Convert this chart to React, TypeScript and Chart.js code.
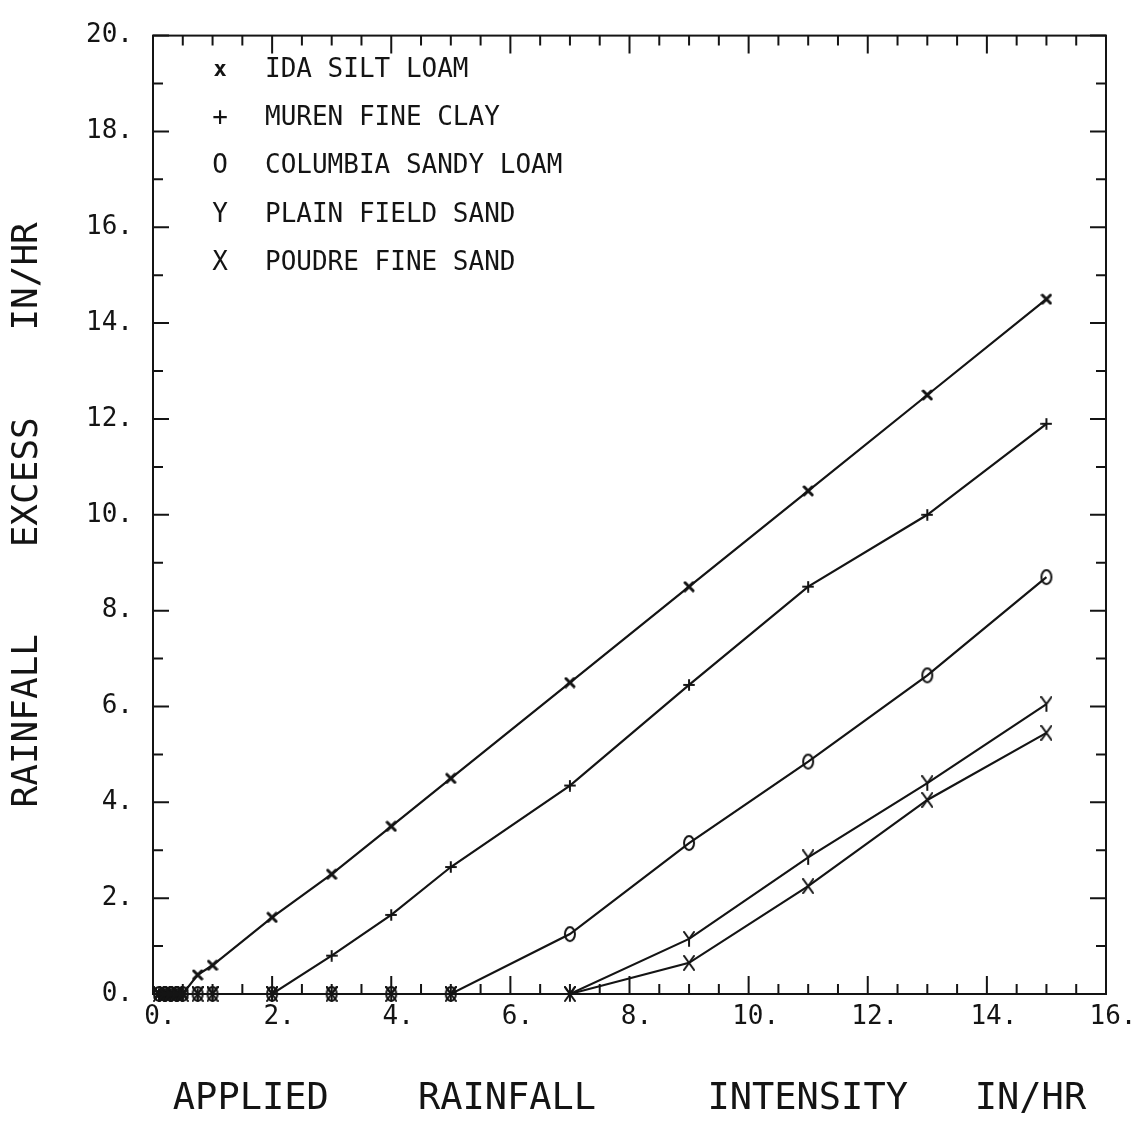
import React, { useEffect, useRef } from 'react';
import { Chart, registerables } from 'chart.js';

Chart.register(...registerables);

// ---- data ----
const xValues = [0.1, 0.2, 0.3, 0.4, 0.5, 0.75, 1, 2, 3, 4, 5, 7, 9, 11, 13, 15];
const idaSiltLoam = [0, 0, 0, 0, 0, 0.4, 0.6, 1.6, 2.5, 3.5, 4.5, 6.5, 8.5, 10.5, 12.5, 14.5];
const murenFineClay = [0, 0, 0, 0, 0, 0, 0, 0, 0.8, 1.65, 2.65, 4.35, 6.45, 8.5, 10.0, 11.9];
const columbiaSandyLoam = [0, 0, 0, 0, 0, 0, 0, 0, 0, 0, 0, 1.25, 3.15, 4.85, 6.65, 8.7];
const plainFieldSand = [0, 0, 0, 0, 0, 0, 0, 0, 0, 0, 0, 0, 1.15, 2.85, 4.4, 6.05];
const poudreFineSand = [0, 0, 0, 0, 0, 0, 0, 0, 0, 0, 0, 0, 0.65, 2.25, 4.05, 5.45];

const seriesNames = ['IDA SILT LOAM', 'MUREN FINE CLAY', 'COLUMBIA SANDY LOAM', 'PLAIN FIELD SAND', 'POUDRE FINE SAND'];
const legendSymbols = ['x', '+', 'O', 'Y', 'X'];
const xTitle = 'APPLIED    RAINFALL     INTENSITY   IN/HR';
const yTitle = 'RAINFALL    EXCESS    IN/HR';

const INK = '#141414';
const MONO = '"DejaVu Sans Mono", "Liberation Mono", monospace';

function makeGlyph(w: number, h: number, draw: (c: CanvasRenderingContext2D, w: number, h: number) => void) {
  const cv = document.createElement('canvas');
  cv.width = w;
  cv.height = h;
  const c = cv.getContext('2d')!;
  c.strokeStyle = INK;
  c.fillStyle = INK;
  c.lineCap = 'round';
  draw(c, w, h);
  return cv;
}

const boxAndTicks = {
  id: 'boxAndTicks',
  afterDraw(chart: any) {
    const { ctx, chartArea: a, scales } = chart;
    const xs = scales.x;
    const ys = scales.y;
    ctx.save();
    ctx.strokeStyle = INK;
    ctx.lineWidth = 2;
    ctx.strokeRect(a.left, a.top, a.right - a.left, a.bottom - a.top);
    ctx.beginPath();
    for (let v = 0; v <= 16.001; v += 0.5) {
      const px = xs.getPixelForValue(v);
      const len = Math.abs(v % 2) < 1e-6 ? 18 : 10;
      ctx.moveTo(px, a.bottom);
      ctx.lineTo(px, a.bottom - len);
      ctx.moveTo(px, a.top);
      ctx.lineTo(px, a.top + len);
    }
    for (let v = 0; v <= 20.001; v += 1) {
      const py = ys.getPixelForValue(v);
      const len = v % 2 === 0 ? 16 : 10;
      ctx.moveTo(a.left, py);
      ctx.lineTo(a.left + len, py);
      ctx.moveTo(a.right, py);
      ctx.lineTo(a.right - len, py);
    }
    ctx.stroke();

    // legend
    ctx.fillStyle = INK;
    ctx.textBaseline = 'middle';
    seriesNames.forEach((name, i) => {
      const y = 70 + i * 48.3;
      ctx.textAlign = 'center';
      ctx.font = i === 0 ? `bold 22px ${MONO}` : `26px ${MONO}`;
      ctx.fillText(legendSymbols[i], 220, y);
      ctx.textAlign = 'left';
      ctx.font = `26px ${MONO}`;
      ctx.fillText(name, 265, y);
    });
    ctx.restore();
  },
};

export default function App() {
  const ref = useRef<HTMLCanvasElement | null>(null);

  useEffect(() => {
    if (!ref.current) return;

    const idaGlyph = makeGlyph(12, 12, (c, w, h) => {
      c.lineWidth = 3;
      c.beginPath();
      c.moveTo(2, 2); c.lineTo(w - 2, h - 2);
      c.moveTo(w - 2, 2); c.lineTo(2, h - 2);
      c.stroke();
    });
    const murenGlyph = makeGlyph(12, 12, (c, w, h) => {
      c.lineWidth = 2;
      c.beginPath();
      c.moveTo(w / 2, 1); c.lineTo(w / 2, h - 1);
      c.moveTo(1, h / 2); c.lineTo(w - 1, h / 2);
      c.stroke();
    });
    const columbiaGlyph = makeGlyph(14, 18, (c, w, h) => {
      c.lineWidth = 2;
      c.beginPath();
      c.ellipse(w / 2, h / 2, w / 2 - 2, h / 2 - 2, 0, 0, Math.PI * 2);
      c.stroke();
    });
    const plainGlyph = makeGlyph(12, 16, (c, w, h) => {
      c.lineWidth = 2;
      c.beginPath();
      c.moveTo(1, 1); c.lineTo(w / 2, h / 2);
      c.moveTo(w - 1, 1); c.lineTo(w / 2, h / 2);
      c.lineTo(w / 2, h - 1);
      c.stroke();
    });
    const poudreGlyph = makeGlyph(12, 16, (c, w, h) => {
      c.lineWidth = 2;
      c.beginPath();
      c.moveTo(1, 1); c.lineTo(w - 1, h - 1);
      c.moveTo(w - 1, 1); c.lineTo(1, h - 1);
      c.stroke();
    });

    const allSeries = [idaSiltLoam, murenFineClay, columbiaSandyLoam, plainFieldSand, poudreFineSand];
    const glyphs = [idaGlyph, murenGlyph, columbiaGlyph, plainGlyph, poudreGlyph];

    const datasets = allSeries.map((vals, i) => ({
      label: seriesNames[i],
      data: xValues.map((x, j) => ({ x, y: vals[j] })),
      borderColor: INK,
      backgroundColor: INK,
      borderWidth: 2.2,
      pointStyle: glyphs[i] as any,
      pointRadius: 6,
      tension: 0,
      clip: false as any,
    }));

    const chart = new Chart(ref.current, {
      type: 'line',
      data: { datasets },
      options: {
        responsive: false,
        animation: false,
        devicePixelRatio: 1,
        layout: { padding: { top: 31, right: 39, left: 0, bottom: 0 } },
        plugins: { legend: { display: false }, tooltip: { enabled: false } },
        scales: {
          x: {
            type: 'linear',
            min: 0,
            max: 16,
            grid: { display: false, drawTicks: false },
            border: { display: false },
            ticks: {
              stepSize: 2,
              autoSkip: false,
              maxRotation: 0,
              padding: 8,
              labelOffset: 7,
              color: INK,
              font: { family: MONO, size: 26 },
              callback: (v: any) => `${v}.`,
            },
            title: {
              display: true,
              text: xTitle,
              color: INK,
              font: { family: MONO, size: 37, lineHeight: 1 },
              padding: { top: 0, bottom: 28 },
            },
            afterFit: (s: any) => { s.height = 152; },
          },
          y: {
            type: 'linear',
            min: 0,
            max: 20,
            grid: { display: false, drawTicks: false },
            border: { display: false },
            ticks: {
              stepSize: 2,
              autoSkip: false,
              padding: 20,
              color: INK,
              font: { family: MONO, size: 26 },
              callback: (v: any) => `${v}.`,
            },
            title: {
              display: true,
              text: yTitle,
              color: INK,
              font: { family: MONO, size: 36, lineHeight: 1 },
              padding: { top: 10, bottom: 0 },
            },
            afterFit: (s: any) => { s.width = 153; },
          },
        },
      },
      plugins: [boxAndTicks],
    });

    return () => chart.destroy();
  }, []);

  return (
    <div style={{ position: 'fixed', left: 0, top: 0, width: 1145, height: 1146, background: '#ffffff' }}>
      <canvas ref={ref} width={1145} height={1146} style={{ display: 'block' }} />
    </div>
  );
}
